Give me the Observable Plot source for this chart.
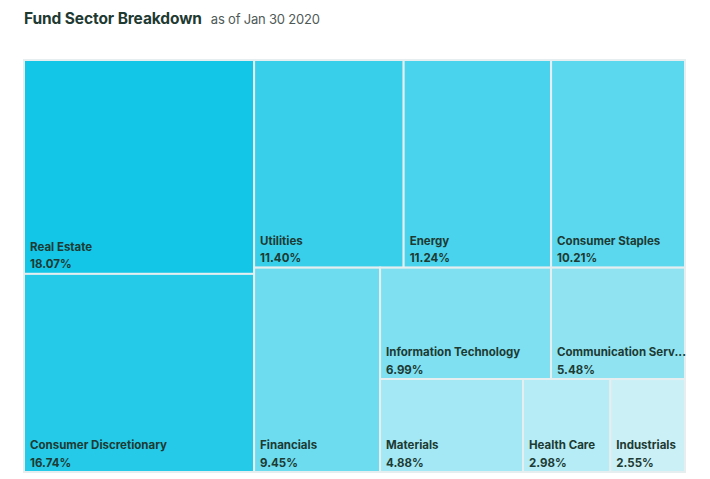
<!DOCTYPE html>
<html>
<head>
<meta charset="utf-8">
<script src="https://cdn.jsdelivr.net/npm/d3@7"></script>
<script src="https://cdn.jsdelivr.net/npm/@observablehq/plot@0.6"></script>
<style>
  body { margin: 0; background: #fff; font-family: Inter, "Noto Sans", sans-serif; }
  #title { height: 40px; padding-left: 24px; box-sizing: border-box; padding-top: 8px; white-space: nowrap; }
  #title b { font-size: 15.5px; font-weight: 700; color: #1e3a32; letter-spacing: -0.1px; }
  #title span { font-size: 13px; color: #4f5a57; margin-left: 9px; letter-spacing: -0.2px; }
</style>
</head>
<body>
<div id="title"><b>Fund Sector Breakdown</b><span>as of Jan 30 2020</span></div>
<div id="chart"></div>
<script>
const sectors = ["Real Estate", "Consumer Discretionary", "Utilities", "Energy", "Consumer Staples",
  "Financials", "Information Technology", "Communication Services", "Materials", "Health Care", "Industrials"];
const weights = [18.07, 16.74, 11.40, 11.24, 10.21, 9.45, 6.99, 5.48, 4.88, 2.98, 2.55];
const colors = ["#13c5e6", "#25cae8", "#38cfea", "#4ad3ec", "#5cd8ee", "#6ddcef",
  "#7fe0f1", "#90e4f2", "#a3e8f4", "#b5ecf5", "#cbf0f6"];

// Squarified tiling with alternating direction (column, row, column, ...)
function alternatingSquarify(parent, x0, y0, x1, y1) {
  const nodes = parent.children;
  const W = x1 - x0, H = y1 - y0, total = parent.value;
  let dir = 0, rx = x0, ry = y0, rw = W, rh = H, group = [];
  const aspect = (w, h) => Math.max(w / h, h / w);
  function place(items) {
    const sum = d3.sum(items, d => d.area);
    if (dir === 0) {
      const gw = sum / rh; let y = ry;
      for (const it of items) { const h = it.area / gw; Object.assign(it.node, {x0: rx, x1: rx + gw, y0: y, y1: y + h}); y += h; }
      rx += gw; rw -= gw;
    } else {
      const gh = sum / rw; let x = rx;
      for (const it of items) { const w = it.area / gh; Object.assign(it.node, {x0: x, x1: x + w, y0: ry, y1: ry + gh}); x += w; }
      ry += gh; rh -= gh;
    }
    dir = 1 - dir;
  }
  nodes.forEach((node, i) => {
    const area = W * H * node.value / total;
    if (group.length) {
      const last = group[group.length - 1].area;
      const sOld = d3.sum(group, d => d.area), sNew = sOld + area;
      let lR, nR;
      if (dir === 0) { const lw = sOld / rh, nw = sNew / rh; lR = aspect(lw, last / lw); nR = aspect(nw, last / nw); }
      else { const lh = sOld / rw, nh = sNew / rw; lR = aspect(last / lh, lh); nR = aspect(last / nh, nh); }
      if (nR > lR) { place(group); group = []; }
    }
    group.push({node, area});
    if (i === nodes.length - 1) place(group);
  });
}

const W = 661, H = 412;
const root = d3.hierarchy({children: sectors.map((name, i) => ({name, value: weights[i], color: colors[i]}))})
  .sum(d => d.value || 0);
d3.treemap().tile(alternatingSquarify).size([W, H]).round(false)(root);
const leaves = root.leaves();

const ctx = document.createElement("canvas").getContext("2d");
ctx.font = "700 11.5px Inter, 'Noto Sans', sans-serif";
function fit(text, width) {
  if (ctx.measureText(text).width <= width) return text;
  let t = text;
  while (t.length > 1 && ctx.measureText(t + "...").width > width) t = t.slice(0, -1);
  return t.trimEnd() + "...";
}
const cells = leaves.map(d => ({
  x0: d.x0, x1: d.x1, y0: d.y0, y1: d.y1,
  fill: d.data.color,
  label: fit(d.data.name, d.x1 - d.x0 - 3),
  pct: d.data.value.toFixed(2) + "%"
}));

const chart = Plot.plot({
  width: 710,
  height: 439,
  marginLeft: 24,
  marginRight: 25,
  marginTop: 20,
  marginBottom: 7,
  x: {domain: [0, W], axis: null},
  y: {domain: [0, H], axis: null, reverse: true},
  style: {fontFamily: "Inter, 'Noto Sans', sans-serif"},
  marks: [
    Plot.rect(cells, {x1: "x0", x2: "x1", y1: "y0", y2: "y1", fill: "fill", stroke: "#e6eef0", strokeWidth: 2}),
    Plot.text(cells, {x: "x0", y: "y1", text: "label", textAnchor: "start", lineAnchor: "bottom",
      dx: 5.5, dy: -23.5, fontSize: 11.5, fontWeight: 700, fill: "#1d3a33"}),
    Plot.text(cells, {x: "x0", y: "y1", text: "pct", textAnchor: "start", lineAnchor: "bottom",
      dx: 5.5, dy: -6, fontSize: 11.5, fontWeight: 700, fill: "#1d3a33"})
  ]
});
document.getElementById("chart").appendChild(chart);
</script>
</body>
</html>
